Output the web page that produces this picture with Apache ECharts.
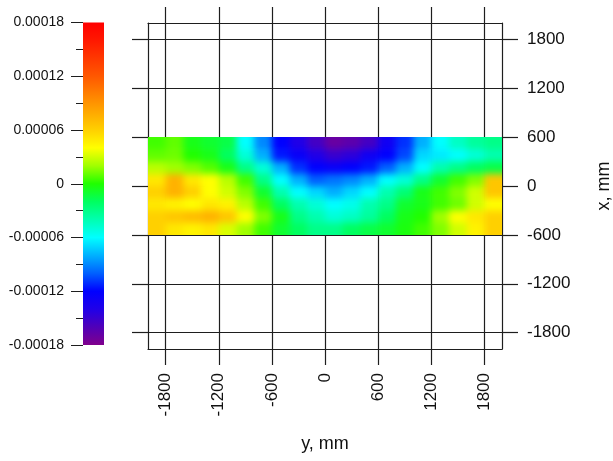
<!DOCTYPE html>
<html><head><meta charset="utf-8">
<script src="https://cdn.jsdelivr.net/npm/echarts@6/dist/echarts.min.js"></script>
<style>html,body{margin:0;padding:0;background:#fff}#c{width:613px;height:461px}</style>
</head><body><div id="c"></div>
<script>
// heatmap cell centres (mm)
const yCols = [-1900,-1700,-1500,-1300,-1100,-900,-700,-500,-300,-100,100,300,500,700,900,1100,1300,1500,1700,1900];
const xRows = [525,375,225,75,-75,-225,-375,-525];
// strain values in units of 1e-5, one row per xRows entry
const strainRow525  = [0.5,1,-0.5,-1,-1.5,-6,-9,-12,-14,-15.5,-17,-16.5,-15.5,-13,-11,-8,-6,-4.5,-3.5,-3];
const strainRow375  = [1,1.2,0,-0.5,-2,-5,-8,-11.5,-12.5,-14,-15,-14.5,-13,-12,-10.5,-7,-6.5,-6,-5,-4];
const strainRow225  = [2.5,2,1.5,0.8,-0.5,-3,-5,-8,-11,-12,-12.5,-12,-11.5,-10,-8,-6,-4,-3,-2,-1.5];
const strainRow75   = [5,7.5,5,4,2.5,0.5,-3,-6,-8,-10,-9.5,-9,-8,-6,-5,-3,-1,0.5,1.5,6.5];
const strainRowM75  = [6,7.5,6,4,3,1.5,-1,-4,-6,-7,-8,-7,-6,-4,-2.5,-0.5,0.5,1.5,3,6.5];
const strainRowM225 = [5,4.5,4,5,4.5,2.5,0.5,-2,-4,-5,-6,-5.5,-4,-3,-1,-0.5,0.5,1.2,3,4];
const strainRowM375 = [6,6.5,7,7.5,6.5,4,1.5,-0.5,-3,-4,-5,-4.5,-3.5,-2,-0.5,0,2,4,5,6];
const strainRowM525 = [6,5,4.5,5,3.2,2,0.5,-1,-2,-3,-3,-2,-1.5,-1,-0.3,0.5,1.5,3,4.5,6];
const strainRows = [strainRow525,strainRow375,strainRow225,strainRow75,strainRowM75,strainRowM225,strainRowM375,strainRowM525];
// axis ticks
const axisTicks = [-1800,-1200,-600,0,600,1200,1800];
const cbTickValues = [-18,-12,-6,0,6,12,18];
const cbTickLabels = ['-0.00018','-0.00012','-0.00006','0','0.00006','0.00012','0.00018'];
const cbRange = [-18, 18];
const rainbow = ['#80008c','#5000b8','#2000e8','#0000ff','#0060ff','#00b0ff','#00ffff','#00ffb0','#00ff60','#20ff00','#a0ff00','#ffff00','#ffd000','#ffa800','#ff8000','#ff5800','#ff3800','#ff1800','#ff0000'];

const cellW = 200, cellH = 150;
const data = [];
xRows.forEach((x, r) => yCols.forEach((y, c) => data.push([y, x, strainRows[r][c]])));

const FONT = 'Liberation Sans, Arial, sans-serif';
const LINE = '#1e1e1e';
const chart = echarts.init(document.getElementById('c'), null, {renderer: 'canvas'});
const baseAxis = {
  type: 'value', min: -2000, max: 2000,
  axisLine: {show: true, onZero: false, lineStyle: {color: LINE, width: 1.2}},
  axisTick: {show: true, inside: false, length: 16, customValues: axisTicks, lineStyle: {color: LINE, width: 1.2}},
  axisLabel: {show: false},
  splitLine: {show: false}
};
chart.setOption({
  animation: false,
  textStyle: {fontFamily: FONT},
  grid: [
    {left: 148, top: 23, width: 354, height: 326, outerBoundsMode: 'none', containLabel: false},
    {left: 83, top: 22.5, width: 21, height: 322.5, outerBoundsMode: 'none', containLabel: false}
  ],
  xAxis: [
    Object.assign({}, baseAxis, {
      position: 'bottom', gridIndex: 0,
      axisLabel: {show: true, rotate: 90, margin: 24, fontSize: 17, color: '#111', fontFamily: FONT,
        customValues: axisTicks, formatter: v => String(v)},
      splitLine: {show: true, lineStyle: {color: LINE, width: 1.2}},
      name: 'y, mm', nameLocation: 'middle', nameGap: 86,
      nameTextStyle: {fontSize: 18, color: '#111', fontFamily: FONT}
    }),
    Object.assign({}, baseAxis, {position: 'top', gridIndex: 0}),
    {type: 'value', gridIndex: 1, show: false, min: 0, max: 1}
  ],
  yAxis: [
    Object.assign({}, baseAxis, {
      position: 'right', gridIndex: 0,
      axisLabel: {show: true, margin: 25, fontSize: 17, color: '#111', fontFamily: FONT,
        customValues: axisTicks, formatter: v => String(v)},
      splitLine: {show: true, lineStyle: {color: LINE, width: 1.2}},
      name: 'x, mm', nameLocation: 'middle', nameGap: 93,
      nameTextStyle: {fontSize: 18, color: '#111', fontFamily: FONT}
    }),
    Object.assign({}, baseAxis, {position: 'left', gridIndex: 0}),
    {
      type: 'value', gridIndex: 1, position: 'left', min: cbRange[0], max: cbRange[1], interval: 6,
      axisLine: {show: false},
      axisTick: {show: true, length: 12, lineStyle: {color: LINE, width: 1}},
      minorTick: {show: true, splitNumber: 2, length: 7, lineStyle: {color: LINE, width: 1}},
      splitLine: {show: false},
      axisLabel: {margin: 19, fontSize: 14, color: '#111', fontFamily: FONT,
        formatter: v => cbTickLabels[cbTickValues.indexOf(Math.round(v))]}
    }
  ],
  visualMap: {
    type: 'continuous', min: cbRange[0], max: cbRange[1], dimension: 2, seriesIndex: 0,
    calculable: false, show: false,
    inRange: {color: rainbow}
  },
  series: [{
    type: 'custom', xAxisIndex: 0, yAxisIndex: 0, zlevel: 1,
    encode: {x: 0, y: 1},
    data: data,
    renderItem: function (params, api) {
      const y = api.value(0), x = api.value(1);
      const p = api.coord([y, x]);
      const s = api.size([cellW, cellH]);
      let x0 = p[0] - s[0] / 2, x1 = p[0] + s[0] / 2, y0 = p[1] - s[1] / 2, y1 = p[1] + s[1] / 2;
      const ext = 24;
      if (y === yCols[0]) x0 -= ext;
      if (y === yCols[yCols.length - 1]) x1 += ext;
      if (x === xRows[0]) y0 -= ext;
      if (x === xRows[xRows.length - 1]) y1 += ext;
      return {
        type: 'rect',
        shape: {x: x0, y: y0, width: x1 - x0 + 0.6, height: y1 - y0 + 0.6},
        style: {fill: api.visual('color')}
      };
    }
  }, {
    type: 'custom', xAxisIndex: 2, yAxisIndex: 2,
    encode: {x: 0, y: 1},
    data: [[0, cbRange[0], cbRange[1]]],
    renderItem: function (params, api) {
      const a = api.coord([0, api.value(1)]);
      const b = api.coord([1, api.value(2)]);
      return {
        type: 'rect',
        shape: {x: a[0], y: b[1], width: b[0] - a[0], height: a[1] - b[1]},
        style: {fill: new echarts.graphic.LinearGradient(0, 1, 0, 0,
          rainbow.map((c, i) => ({offset: i / (rainbow.length - 1), color: c})))}
      };
    }
  }]
});

function smoothHeatLayer() {
  const cv = document.querySelector('#c canvas[data-zr-dom-id="zr_1"]');
  if (!cv) return;
  const tl = chart.convertToPixel({gridIndex: 0}, [-2000, xRows[0] + cellH / 2]);
  const br = chart.convertToPixel({gridIndex: 0}, [2000, xRows[xRows.length - 1] - cellH / 2]);
  const W = cv.clientWidth || 613, H = cv.clientHeight || 461;
  cv.style.filter = 'blur(3.5px)';
  cv.style.clipPath = 'inset(' + tl[1] + 'px ' + (W - br[0]) + 'px ' + (H - br[1]) + 'px ' + tl[0] + 'px)';
}
chart.getZr().refreshImmediately();
smoothHeatLayer();
chart.on('finished', smoothHeatLayer);
setTimeout(smoothHeatLayer, 0);
</script></body></html>
